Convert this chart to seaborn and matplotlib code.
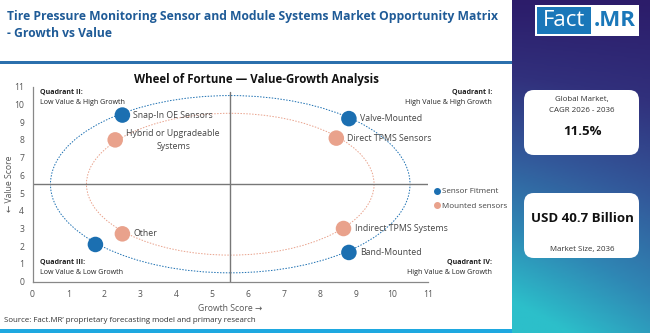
import numpy as np
import pandas as pd
import matplotlib
matplotlib.use("Agg")
import matplotlib.pyplot as plt
from matplotlib.patches import Ellipse, FancyBboxPatch, Rectangle
from matplotlib.lines import Line2D
from matplotlib.colors import LinearSegmentedColormap
import seaborn as sns

sns.set_theme(style="white")
plt.rcParams["font.family"] = ["Open Sans", "DejaVu Sans"]

# ---- data -------------------------------------------------------------
groups = ["Sensor Fitment", "Sensor Fitment", "Sensor Fitment", "Sensor Fitment",
          "Mounted sensors", "Mounted sensors", "Mounted sensors", "Mounted sensors"]
segments = ["Snap-In OE Sensors", "Valve-Mounted", "Band-Mounted", "",
            "Hybrid or Upgradeable\nSystems", "Direct TPMS Sensors",
            "Indirect TPMS Systems", "Other"]
growth = [2.5, 8.8, 8.8, 1.75, 2.3, 8.45, 8.65, 2.5]
value = [9.4, 9.2, 1.65, 2.1, 8.0, 8.1, 3.0, 2.7]
ring_radius = {"Sensor Fitment": 5.0, "Mounted sensors": 4.0}
ticks = list(range(0, 12))
cagr_text = "11.5%"
market_text = "USD 40.7 Billion"

df = pd.DataFrame({"group": groups, "segment": segments,
                   "growth": growth, "value": value})

BLUE = "#1b6fb1"
ORANGE = "#e9a28c"
palette = {"Sensor Fitment": BLUE, "Mounted sensors": ORANGE}
TITLE_BLUE = "#1f5b97"

W, H = 650, 333
fig = plt.figure(figsize=(W / 100, H / 100), dpi=100)
fig.patch.set_facecolor("white")

def fx(px):
    return px / W

def fy(py):
    return 1 - py / H

# ---- header -----------------------------------------------------------
fig.text(fx(7), fy(25), "Tire Pressure Monitoring Sensor and Module Systems Market Opportunity Matrix\n- Growth vs Value",
         ha="left", va="center", fontsize=8.75, fontweight="bold", color=TITLE_BLUE,
         linespacing=1.45)
fig.add_artist(Rectangle((0, fy(64)), fx(512), 3 / H, transform=fig.transFigure,
                         color="#2b70ad", lw=0))
fig.add_artist(Rectangle((0, 0), fx(512), 4 / H, transform=fig.transFigure,
                         color="#1ea8e0", lw=0))
fig.text(fx(4), fy(321), "Source: Fact.MR\u2019 proprietary forecasting model and primary research",
         ha="left", va="center", fontsize=5.7, color="#333333")

# ---- main scatter -----------------------------------------------------
ax = fig.add_axes([fx(32.5), fy(281.7), fx(428) - fx(32.5), fy(86.7) - fy(281.7)])
ax.set_xlim(0, 11)
ax.set_ylim(0, 11)

for g, r in ring_radius.items():
    ax.add_patch(Ellipse((5.5, 5.5), 2 * r, 2 * r, fill=False,
                         edgecolor=palette[g], ls=(0, (1.5, 1.5)), lw=0.7, zorder=1))

ax.axvline(5.5, ymax=10.7 / 11, color="#777777", lw=1.0, zorder=1)
ax.axhline(5.5, color="#777777", lw=1.0, zorder=1)

sns.scatterplot(data=df, x="growth", y="value", hue="group", palette=palette,
                s=125, edgecolor="none", legend=False, ax=ax, zorder=3)

for _, row in df.iterrows():
    if not row["segment"]:
        continue
    ax.annotate(row["segment"], (row["growth"], row["value"]),
                xytext=(8, 0), textcoords="offset points",
                ha="left", va="center", fontsize=6.3, color="#444444",
                multialignment="center", linespacing=1.5, zorder=4)

ax.set_xticks(ticks)
ax.set_yticks(ticks)
ax.tick_params(axis="both", labelsize=6.2, colors="#555555", length=0, pad=6)
for s in ["top", "right"]:
    ax.spines[s].set_visible(False)
for s in ["left", "bottom"]:
    ax.spines[s].set_color("#888888")
    ax.spines[s].set_linewidth(0.9)
ax.set_xlabel("Growth Score \u2192", fontsize=6.2, color="#555555")
ax.set_ylabel("\u2190 Value Score", fontsize=6.2, color="#555555")
ax.xaxis.set_label_coords(0.5, -0.115)
ax.yaxis.set_label_coords(-0.047, 0.5)

# quadrant captions
qkw = dict(fontsize=5.1, color="#222222")
fig.text(fx(40), fy(92), "Quadrant II:", ha="left", va="center", fontweight="bold", **qkw)
fig.text(fx(40), fy(102), "Low Value & High Growth", ha="left", va="center", **qkw)
fig.text(fx(492), fy(92), "Quadrant I:", ha="right", va="center", fontweight="bold", **qkw)
fig.text(fx(492), fy(102), "High Value & High Growth", ha="right", va="center", **qkw)
fig.text(fx(40), fy(262), "Quadrant III:", ha="left", va="center", fontweight="bold", **qkw)
fig.text(fx(40), fy(272), "Low Value & Low Growth", ha="left", va="center", **qkw)
fig.text(fx(492), fy(262), "Quadrant IV:", ha="right", va="center", fontweight="bold", **qkw)
fig.text(fx(492), fy(272), "High Value & Low Growth", ha="right", va="center", **qkw)

fig.text(fx(256), fy(80), "Wheel of Fortune \u2014 Value-Growth Analysis", ha="center",
         va="center", fontsize=8.3, fontweight="bold", color="#111111")

handles = [Line2D([], [], marker="o", ls="", color=palette[g], markersize=4)
           for g in ring_radius]
fig.legend(handles, list(ring_radius), loc="center left",
           bbox_to_anchor=(fx(428), fy(199)), frameon=False, fontsize=5.8,
           handletextpad=0.1, labelspacing=0.9, borderpad=0, handlelength=1.2,
           labelcolor="#444444")

# ---- right panel ------------------------------------------------------
pan = fig.add_axes([fx(512), 0, 1 - fx(512), 1])
pan.set_axis_off()
cmap = LinearSegmentedColormap.from_list(
    "panel", ["#2c1c6a", "#31307c", "#33589a", "#2f86b4", "#2cbfca"])
yy, xx = np.mgrid[0:1:200j, 0:1:60j]
grad = yy * 0.85 + (1 - xx) * 0.25 * yy
pan.imshow(grad, cmap=cmap, aspect="auto", extent=[0, 1, 0, 1], origin="upper",
           vmin=0, vmax=1)
pan.set_xlim(0, 1)
pan.set_ylim(0, 1)

# logo
fig.add_artist(Rectangle((fx(535), fy(36)), fx(104), 31 / H, transform=fig.transFigure,
                         color="white", lw=0))
fig.add_artist(Rectangle((fx(537), fy(34)), fx(54), 27 / H, transform=fig.transFigure,
                         color="#1a77b9", lw=0))
fig.text(fx(564), fy(20.5), "Fact", ha="center", va="center", fontsize=16,
         color="white")
fig.text(fx(615), fy(20.5), ".MR", ha="center", va="center", fontsize=16,
         color="#1a77b9", fontweight="bold")

for top, bot in [(90, 155), (193, 258)]:
    fig.add_artist(FancyBboxPatch((fx(524), fy(bot)), fx(115), (bot - top) / H,
                                  boxstyle="round,pad=0,rounding_size=0.015",
                                  transform=fig.transFigure, facecolor="white",
                                  edgecolor="none", mutation_aspect=2))

fig.text(fx(582), fy(100), "Global Market,", ha="center", va="center",
         fontsize=5.7, color="#333333")
fig.text(fx(582), fy(111), "CAGR 2026 - 2036", ha="center", va="center",
         fontsize=5.7, color="#333333")
fig.text(fx(582), fy(132), cagr_text, ha="center", va="center",
         fontsize=9.5, fontweight="bold", color="#111111")
fig.text(fx(582), fy(219), market_text, ha="center", va="center",
         fontsize=9.5, fontweight="bold", color="#111111")
fig.text(fx(582), fy(249), "Market Size, 2036", ha="center", va="center",
         fontsize=5.7, color="#333333")

fig.savefig("out.png", dpi=100, facecolor="white")
